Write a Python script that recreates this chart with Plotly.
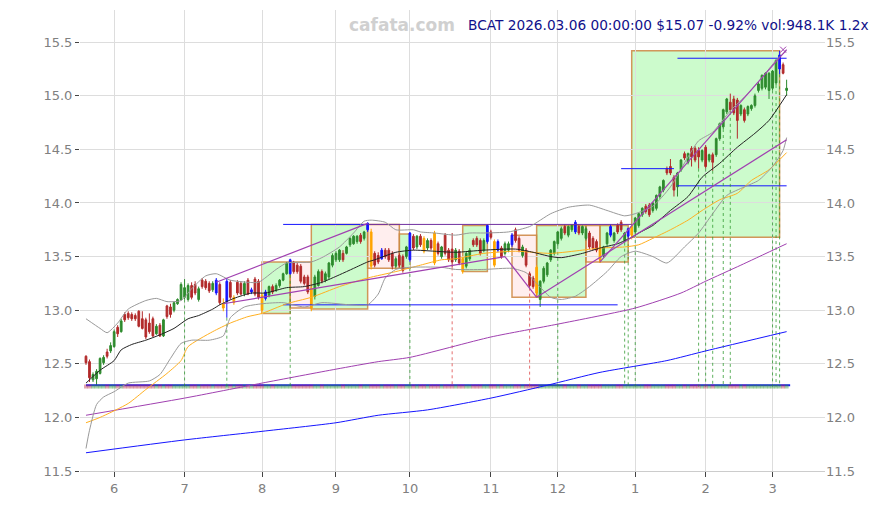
import plotly.graph_objects as go

# daily candles, index 0 = 2025-05-20 ... index 199 = 2026-03-06 (trading days)
opens = [
    12.57, 12.52, 12.35, 12.36, 12.41, 12.51, 12.61, 12.62, 12.66, 12.84,
    12.80, 12.96, 12.97, 12.96, 12.95, 12.99, 12.92, 12.91, 12.88, 12.92,
    12.78, 12.86, 12.76, 13.04, 13.03, 13.00, 13.06, 13.10, 13.12, 13.10,
    13.23, 13.24, 13.10, 13.28, 13.27, 13.25, 13.19, 13.28, 13.24, 13.06,
    13.08, 13.26, 13.07, 13.26, 13.25, 13.15, 13.28, 13.17, 13.29, 13.27,
    13.14, 13.11, 13.14, 13.22, 13.19, 13.23, 13.28, 13.34, 13.34, 13.44,
    13.42, 13.41, 13.31, 13.31, 13.20, 13.13, 13.23, 13.36, 13.28, 13.31,
    13.42, 13.47, 13.47, 13.53, 13.53, 13.61, 13.62, 13.64, 13.70, 13.67,
    13.75, 13.73, 13.53, 13.51, 13.48, 13.56, 13.56, 13.53, 13.41, 13.51,
    13.50, 13.50, 13.47, 13.69, 13.59, 13.69, 13.67, 13.58, 13.65, 13.72,
    13.62, 13.50, 13.70, 13.56, 13.57, 13.47, 13.55, 13.48, 13.41, 13.48,
    13.65, 13.67, 13.65, 13.56, 13.64, 13.73, 13.64, 13.56, 13.58, 13.53,
    13.56, 13.61, 13.75, 13.67, 13.51, 13.56, 13.34, 13.30, 13.40, 13.10,
    13.27, 13.33, 13.47, 13.53, 13.62, 13.67, 13.78, 13.70, 13.75, 13.73,
    13.78, 13.72, 13.67, 13.72, 13.67, 13.64, 13.58, 13.51, 13.62, 13.70,
    13.65, 13.79, 13.82, 13.65, 13.69, 13.70, 13.73, 13.79, 13.89, 13.97,
    13.98, 13.93, 13.95, 14.06, 14.12, 14.32, 14.34, 14.24, 14.15, 14.31,
    14.46, 14.38, 14.51, 14.51, 14.49, 14.40, 14.52, 14.40, 14.45, 14.45,
    14.60, 14.71, 14.85, 14.94, 14.97, 14.96, 14.83, 14.87, 14.83, 14.88,
    14.91, 15.05, 15.07, 15.08, 15.05, 15.07, 15.12, 15.25, 15.29, 15.05,
]
highs = [
    12.58, 12.54, 12.42, 12.45, 12.56, 12.58, 12.64, 12.70, 12.82, 12.86,
    12.92, 12.98, 12.99, 12.98, 12.97, 13.00, 12.99, 12.93, 12.97, 12.94,
    12.87, 12.88, 12.92, 13.05, 13.06, 13.08, 13.11, 13.26, 13.29, 13.25,
    13.26, 13.27, 13.22, 13.30, 13.29, 13.27, 13.27, 13.30, 13.26, 13.11,
    13.30, 13.28, 13.14, 13.28, 13.27, 13.27, 13.30, 13.21, 13.31, 13.29,
    13.16, 13.19, 13.23, 13.24, 13.25, 13.29, 13.35, 13.45, 13.48, 13.46,
    13.44, 13.43, 13.33, 13.33, 13.22, 13.33, 13.38, 13.38, 13.36, 13.45,
    13.53, 13.55, 13.57, 13.56, 13.60, 13.68, 13.70, 13.70, 13.72, 13.74,
    13.82, 13.76, 13.55, 13.54, 13.58, 13.58, 13.58, 13.55, 13.50, 13.53,
    13.52, 13.60, 13.73, 13.71, 13.70, 13.71, 13.69, 13.67, 13.67, 13.74,
    13.64, 13.60, 13.72, 13.58, 13.72, 13.58, 13.57, 13.50, 13.55, 13.58,
    13.67, 13.69, 13.67, 13.67, 13.80, 13.75, 13.66, 13.66, 13.60, 13.64,
    13.64, 13.72, 13.77, 13.69, 13.61, 13.58, 13.36, 13.32, 13.42, 13.28,
    13.41, 13.45, 13.57, 13.65, 13.74, 13.78, 13.80, 13.79, 13.80, 13.84,
    13.80, 13.79, 13.78, 13.74, 13.69, 13.66, 13.60, 13.60, 13.73, 13.80,
    13.73, 13.81, 13.84, 13.73, 13.77, 13.79, 13.87, 13.91, 13.96, 13.99,
    14.00, 14.01, 14.08, 14.16, 14.22, 14.34, 14.41, 14.26, 14.29, 14.41,
    14.48, 14.47, 14.53, 14.53, 14.52, 14.50, 14.54, 14.46, 14.47, 14.61,
    14.75, 14.88, 14.98, 15.02, 15.00, 14.98, 14.92, 14.89, 14.91, 14.92,
    15.02, 15.13, 15.20, 15.22, 15.22, 15.24, 15.34, 15.42, 15.31, 15.15,
]
lows = [
    12.49, 12.33, 12.33, 12.30, 12.40, 12.49, 12.55, 12.60, 12.65, 12.75,
    12.79, 12.89, 12.91, 12.90, 12.90, 12.84, 12.82, 12.73, 12.78, 12.75,
    12.77, 12.75, 12.75, 12.92, 12.93, 12.98, 13.05, 13.09, 13.10, 13.08,
    13.10, 13.14, 13.08, 13.20, 13.19, 13.16, 13.17, 13.14, 13.05, 12.99,
    12.93, 13.10, 13.05, 13.14, 13.14, 13.13, 13.14, 13.15, 13.13, 13.10,
    12.97, 13.09, 13.12, 13.15, 13.17, 13.21, 13.27, 13.33, 13.33, 13.34,
    13.34, 13.25, 13.23, 13.15, 12.99, 13.10, 13.22, 13.25, 13.26, 13.29,
    13.40, 13.45, 13.45, 13.45, 13.52, 13.59, 13.61, 13.62, 13.62, 13.65,
    13.73, 13.38, 13.40, 13.43, 13.47, 13.48, 13.45, 13.38, 13.39, 13.40,
    13.35, 13.48, 13.45, 13.56, 13.57, 13.59, 13.53, 13.56, 13.56, 13.42,
    13.51, 13.48, 13.51, 13.45, 13.40, 13.45, 13.42, 13.34, 13.39, 13.46,
    13.59, 13.59, 13.51, 13.54, 13.62, 13.66, 13.40, 13.54, 13.48, 13.51,
    13.54, 13.59, 13.63, 13.54, 13.49, 13.40, 13.21, 13.20, 13.14, 13.03,
    13.25, 13.31, 13.45, 13.51, 13.60, 13.65, 13.70, 13.68, 13.73, 13.71,
    13.70, 13.70, 13.65, 13.57, 13.56, 13.54, 13.44, 13.49, 13.60, 13.68,
    13.63, 13.71, 13.73, 13.63, 13.67, 13.66, 13.71, 13.77, 13.87, 13.90,
    13.87, 13.91, 13.93, 14.04, 14.10, 14.26, 14.26, 14.06, 14.06, 14.29,
    14.40, 14.36, 14.34, 14.38, 14.32, 14.38, 14.32, 14.38, 14.30, 14.43,
    14.58, 14.69, 14.83, 14.85, 14.82, 14.60, 14.81, 14.75, 14.81, 14.86,
    14.89, 15.03, 15.05, 15.06, 14.97, 15.05, 15.10, 15.20, 15.20, 15.00,
]
closes = [
    12.51, 12.37, 12.40, 12.43, 12.55, 12.56, 12.57, 12.67, 12.80, 12.78,
    12.90, 12.91, 12.93, 12.92, 12.92, 12.85, 12.83, 12.75, 12.80, 12.76,
    12.85, 12.76, 12.91, 12.94, 12.96, 13.07, 13.10, 13.24, 13.21, 13.23,
    13.12, 13.16, 13.20, 13.22, 13.21, 13.18, 13.25, 13.16, 13.07, 13.02,
    13.27, 13.12, 13.12, 13.16, 13.15, 13.25, 13.15, 13.19, 13.15, 13.12,
    13.00, 13.17, 13.22, 13.17, 13.23, 13.28, 13.34, 13.44, 13.47, 13.36,
    13.36, 13.27, 13.25, 13.17, 13.02, 13.31, 13.36, 13.27, 13.34, 13.44,
    13.51, 13.53, 13.56, 13.47, 13.59, 13.67, 13.69, 13.69, 13.64, 13.73,
    13.81, 13.41, 13.42, 13.45, 13.56, 13.50, 13.47, 13.41, 13.48, 13.42,
    13.37, 13.59, 13.72, 13.58, 13.69, 13.61, 13.55, 13.65, 13.58, 13.44,
    13.53, 13.59, 13.53, 13.47, 13.45, 13.56, 13.44, 13.36, 13.53, 13.56,
    13.61, 13.61, 13.53, 13.65, 13.79, 13.68, 13.42, 13.64, 13.50, 13.62,
    13.62, 13.70, 13.65, 13.56, 13.59, 13.42, 13.23, 13.22, 13.16, 13.27,
    13.39, 13.44, 13.56, 13.64, 13.73, 13.76, 13.72, 13.78, 13.79, 13.82,
    13.72, 13.78, 13.76, 13.59, 13.58, 13.56, 13.47, 13.59, 13.72, 13.78,
    13.72, 13.73, 13.75, 13.72, 13.76, 13.78, 13.86, 13.90, 13.95, 13.92,
    13.89, 14.00, 14.07, 14.15, 14.21, 14.28, 14.28, 14.12, 14.28, 14.40,
    14.42, 14.46, 14.43, 14.40, 14.43, 14.49, 14.34, 14.45, 14.38, 14.60,
    14.74, 14.87, 14.97, 14.87, 14.84, 14.77, 14.91, 14.77, 14.90, 14.91,
    15.00, 15.11, 15.19, 15.21, 15.21, 15.23, 15.33, 15.38, 15.21, 15.07,
]

# highlighted candles
blue_idx = [37, 40, 47, 51, 58, 80, 84, 92, 114, 117, 121, 139, 149, 154, 197]
orange_idx = [39, 42, 50, 64, 81, 96, 99, 107, 116, 128, 146, 155]

# signal candles (dotted drop lines)
signal_up = [28, 40, 58, 92, 134, 153, 154, 156, 174, 176, 178, 181, 183, 195, 196, 197]
signal_down = [104, 126]

month_ticks = [8, 28, 50, 71, 92, 115, 134, 156, 176, 195]
month_labels = ["6", "7", "8", "9", "10", "11", "12", "1", "2", "3"]

# indicator lines, sampled
black_x = [0, 4, 8, 10, 13, 17, 21, 25, 29, 32, 36, 38, 42, 47, 51, 57, 62, 67, 72, 76, 80, 82, 88,
           93, 99, 105, 113, 122, 127, 132, 135, 141, 146, 151, 155, 157, 161, 166, 171, 175, 180,
           185, 190, 194, 199]
black_y = [12.32, 12.44, 12.53, 12.63, 12.68, 12.72, 12.77, 12.83, 12.92, 12.95, 13.01, 13.05, 13.11,
           13.16, 13.16, 13.21, 13.22, 13.26, 13.33, 13.39, 13.45, 13.47, 13.54, 13.56, 13.55, 13.54,
           13.56, 13.57, 13.54, 13.50, 13.49, 13.53, 13.58, 13.62, 13.68, 13.72, 13.79, 13.93, 14.06,
           14.24, 14.37, 14.52, 14.65, 14.77, 15.01]

bb_up_x = [0, 4, 6, 9, 12, 17, 20, 23, 27, 30, 34, 37, 41, 46, 49, 54, 57, 64, 67, 72, 76, 79, 81,
           85, 88, 93, 95, 99, 105, 109, 113, 120, 126, 132, 137, 143, 148, 153, 156, 161, 166, 171,
           174, 178, 183, 188, 192, 196, 199]
bb_up_y = [12.92, 12.83, 12.79, 12.88, 13.01, 13.09, 13.11, 13.08, 13.09, 13.20, 13.32, 13.34, 13.28,
           13.26, 13.26, 13.38, 13.44, 13.45, 13.49, 13.59, 13.72, 13.83, 13.84, 13.82, 13.75, 13.75,
           13.73, 13.72, 13.70, 13.72, 13.72, 13.73, 13.78, 13.90, 13.96, 13.98, 13.93, 13.88, 13.90,
           13.97, 14.15, 14.43, 14.58, 14.66, 14.86, 15.02, 15.17, 15.33, 15.42]

bb_lo_x = [0, 1, 3, 5, 8, 12, 18, 21, 24, 27, 30, 35, 39, 41, 45, 50, 56, 62, 67, 75, 80, 83, 85,
           88, 92, 101, 105, 113, 121, 125, 128, 132, 135, 139, 143, 148, 152, 156, 161, 165, 170,
           174, 178, 182, 187, 191, 195, 198, 199]
bb_lo_y = [11.71, 11.88, 12.12, 12.19, 12.24, 12.32, 12.34, 12.40, 12.55, 12.69, 12.72, 12.72, 12.76,
           12.93, 13.03, 13.06, 13.07, 13.03, 13.07, 13.05, 13.05, 13.15, 13.30, 13.38, 13.40, 13.40,
           13.38, 13.38, 13.39, 13.35, 13.25, 13.12, 13.10, 13.13, 13.22, 13.36, 13.50, 13.55, 13.50,
           13.44, 13.59, 13.72, 13.90, 14.07, 14.15, 14.21, 14.34, 14.49, 14.61]

orange_x = [0, 4, 12, 17, 23, 27, 29, 36, 41, 46, 50, 57, 64, 72, 80, 88, 95, 101, 105, 113, 122,
            132, 141, 146, 153, 157, 161, 166, 171, 175, 180, 185, 189, 194, 199]
orange_y = [11.95, 12.00, 12.13, 12.26, 12.41, 12.53, 12.66, 12.80, 12.88, 12.94, 12.97, 13.06, 13.12,
            13.22, 13.30, 13.36, 13.42, 13.47, 13.48, 13.53, 13.55, 13.53, 13.56, 13.58, 13.59, 13.61,
            13.67, 13.75, 13.84, 13.93, 14.03, 14.09, 14.21, 14.31, 14.47]

purple_ma_x = [0, 28, 50, 71, 83, 92, 115, 134, 156, 169, 176, 186, 199]
purple_ma_y = [12.02, 12.18, 12.32, 12.45, 12.52, 12.56, 12.75, 12.87, 13.02, 13.16, 13.27, 13.42, 13.62]

blue_ma_x = [0, 28, 50, 71, 83, 97, 115, 131, 146, 165, 176, 199]
blue_ma_y = [11.67, 11.79, 11.87, 11.95, 12.02, 12.07, 12.18, 12.30, 12.42, 12.53, 12.62, 12.80]

# trend lines (purple)
trend_x0 = [37, 39, 119, 128, 146]
trend_y0 = [13.26, 13.06, 13.50, 13.12, 13.45]
trend_x1 = [80, 119, 128, 199, 199]
trend_y1 = [13.81, 13.50, 13.12, 14.59, 15.43]

# horizontal levels
level_x0 = [0, 56, 80, 56, 152, 168, 168]
level_x1 = [200, 80, 155, 151, 167, 199, 199]
level_y = [12.30, 13.80, 13.80, 13.05, 14.32, 14.16, 15.35]
level_purple = [False, False, True, False, False, False, False]

# boxes
box_x0 = [50, 58, 64, 80, 89, 107, 121, 128, 142, 146, 155]
box_x1 = [58, 64, 80, 89, 92, 114, 128, 142, 146, 154, 197]
box_y0 = [12.97, 13.02, 13.01, 13.39, 13.39, 13.36, 13.12, 13.12, 13.45, 13.45, 13.68]
box_y1 = [13.45, 13.45, 13.80, 13.80, 13.71, 13.79, 13.70, 13.79, 13.79, 13.79, 15.42]
box_up = [True, False, True, False, True, True, False, True, False, True, True]

title_text = "BCAT 2026.03.06 00:00:00 $15.07 -0.92% vol:948.1K 1.2x"

GREEN = "#2e8b2e"
RED = "#b22a2a"
BLUE = "#1515ff"
PURPLE = "#a040b0"
MARK_Y = 12.288

n = len(closes)
special = set(blue_idx) | set(orange_idx)
normal = [i for i in range(n) if i not in special]

fig = go.Figure()


def add_candles(ids, inc, dec):
    fig.add_trace(go.Candlestick(
        x=ids,
        open=[opens[i] for i in ids], high=[highs[i] for i in ids],
        low=[lows[i] for i in ids], close=[closes[i] for i in ids],
        increasing=dict(line=dict(color=inc, width=1), fillcolor=inc),
        decreasing=dict(line=dict(color=dec, width=1), fillcolor=dec),
        whiskerwidth=0, showlegend=False, hoverinfo="skip",
    ))


add_candles(normal, GREEN, RED)
add_candles(blue_idx, BLUE, BLUE)
add_candles(orange_idx, "#ffa500", "#ffa500")

# boxes
for x0, x1, y0, y1, up in zip(box_x0, box_x1, box_y0, box_y1, box_up):
    fig.add_shape(type="rect", x0=x0, x1=x1, y0=y0, y1=y1, layer="below",
                  fillcolor="rgba(120,245,120,0.38)" if up else "rgba(255,170,170,0.2)",
                  line=dict(color="rgba(205,133,63,0.85)", width=1.5))

# bottom strip of per-candle markers
up_ids = [i for i in range(n) if closes[i] >= opens[i]]
dn_ids = [i for i in range(n) if closes[i] < opens[i]]

# horizontal levels
for x0, x1, y, purple in zip(level_x0, level_x1, level_y, level_purple):
    fig.add_trace(go.Scatter(x=[x0, x1], y=[y, y], mode="lines",
                             line=dict(color="#7030a0" if purple else BLUE, width=2 if y == 12.30 else 1),
                             showlegend=False, hoverinfo="skip"))

fig.add_trace(go.Scatter(x=up_ids, y=[MARK_Y] * len(up_ids), mode="markers",
                         marker=dict(symbol="square", size=4, color="rgba(60,160,60,0.45)"),
                         showlegend=False, hoverinfo="skip"))
fig.add_trace(go.Scatter(x=dn_ids, y=[MARK_Y] * len(dn_ids), mode="markers",
                         marker=dict(symbol="square", size=4, color="rgba(190,60,80,0.45)"),
                         showlegend=False, hoverinfo="skip"))


# dotted drop lines
def drop_lines(ids, color):
    xs, ys = [], []
    for i in ids:
        xs += [i, i, None]
        ys += [lows[i], MARK_Y, None]
    fig.add_trace(go.Scatter(x=xs, y=ys, mode="lines",
                             line=dict(color=color, width=1, dash="dot"),
                             showlegend=False, hoverinfo="skip"))


drop_lines(signal_up, "rgba(40,150,40,0.75)")
drop_lines(signal_down, "rgba(220,60,60,0.75)")

# indicator lines
for xs, ys, color, w in [
    (blue_ma_x, blue_ma_y, BLUE, 1),
    (purple_ma_x, purple_ma_y, PURPLE, 1),
    (orange_x, orange_y, "#ffb020", 1),
    (bb_up_x, bb_up_y, "#999999", 1),
    (bb_lo_x, bb_lo_y, "#999999", 1),
    (black_x, black_y, "#222222", 1),
]:
    fig.add_trace(go.Scatter(x=xs, y=ys, mode="lines",
                             line=dict(color=color, width=w, shape="spline", smoothing=0.6),
                             showlegend=False, hoverinfo="skip"))

# trend lines
for x0, y0, x1, y1 in zip(trend_x0, trend_y0, trend_x1, trend_y1):
    fig.add_trace(go.Scatter(x=[x0, x1], y=[y0, y1], mode="lines",
                             line=dict(color=PURPLE, width=1.2),
                             showlegend=False, hoverinfo="skip"))
fig.add_trace(go.Scatter(x=[trend_x1[-1] - 1], y=[trend_y1[-1]], mode="markers",
                         marker=dict(symbol="x-thin", size=6, line=dict(color=PURPLE, width=1)),
                         showlegend=False, hoverinfo="skip"))

# dummy trace so the right axis renders
fig.add_trace(go.Scatter(x=[0], y=[12], yaxis="y2", mode="markers",
                         marker=dict(opacity=0), showlegend=False, hoverinfo="skip"))

fig.add_annotation(text=title_text, xref="paper", yref="paper", x=1.0617, y=0.967,
                   xanchor="right", yanchor="middle", showarrow=False,
                   font=dict(family="DejaVu Sans", size=13.7, color="#10108a"))
fig.add_annotation(text="<b>cafata.com</b>", xref="paper", yref="paper", x=0.432, y=0.967,
                   xanchor="center", yanchor="middle", showarrow=False,
                   font=dict(family="DejaVu Sans", size=17, color="#d0d0d0"))

yax = dict(range=[11.5, 15.8], dtick=0.5, tick0=11.5, tickformat=".1f", zeroline=False,
           tickfont=dict(size=13, color="#808080"))
# page body has an 8px offset, so the figure is shrunk to keep the plot where the reference has it
fig.update_layout(
    width=873, height=497,
    margin=dict(l=72, r=56, t=2, b=34),
    paper_bgcolor="white", plot_bgcolor="white",
    font=dict(family="DejaVu Sans", color="#808080"),
    showlegend=False,
    xaxis=dict(range=[-1.7, 209.9], tickvals=month_ticks, ticktext=month_labels,
               showgrid=True, gridcolor="#dddddd", zeroline=False,
               showline=True, linecolor="#cccccc", ticks="outside", ticklen=5,
               tickcolor="#444444", tickfont=dict(size=13, color="#808080"),
               rangeslider=dict(visible=False)),
    yaxis=dict(**yax, showgrid=True, gridcolor="#dddddd", ticks="outside", ticklen=4,
               tickcolor="#444444"),
    yaxis2=dict(**yax, overlaying="y", side="right", showgrid=False),
)

fig.write_html("out.html")
